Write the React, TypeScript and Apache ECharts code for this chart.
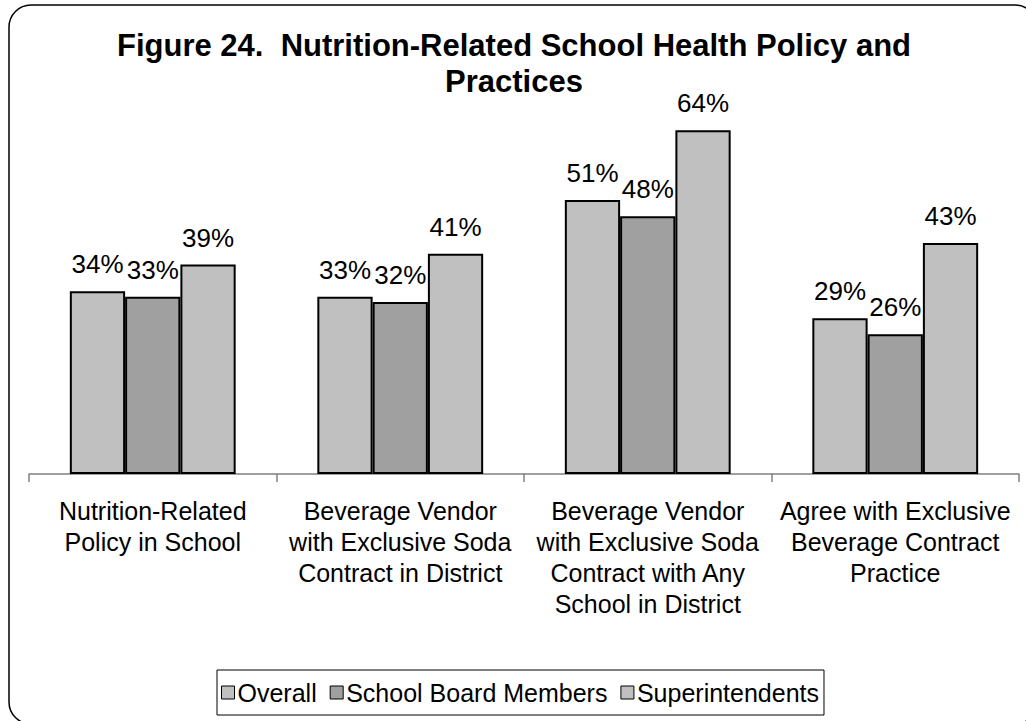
import React, { useEffect, useRef } from "react";
import * as echarts from "echarts";

const categories = [
  "Nutrition-Related\nPolicy in School",
  "Beverage Vendor\nwith Exclusive Soda\nContract in District",
  "Beverage Vendor\nwith Exclusive Soda\nContract with Any\nSchool in District",
  "Agree with Exclusive\nBeverage Contract\nPractice",
];
const seriesNames = ["Overall", "School Board Members", "Superintendents"];
const overall = [34, 33, 51, 29];
const boardMembers = [33, 32, 48, 26];
const superintendents = [39, 41, 64, 43];
const colors = ["#C0C0C0", "#A0A0A0", "#C0C0C0"];
const titleText = "Figure 24.  Nutrition-Related School Health Policy and\nPractices";

export default function App() {
  const ref = useRef<HTMLDivElement>(null);
  useEffect(() => {
    if (!ref.current) return;
    const chart = echarts.init(ref.current, null, { renderer: "svg" });
    const font = "'Liberation Sans', Arial, sans-serif";
    const mk = (name: string, data: number[], color: string) => ({
      name,
      type: "bar",
      data,
      barGap: "0%",
      barCategoryGap: "33%",
      itemStyle: { color, borderColor: "#000", borderWidth: 2 },
      label: {
        show: true,
        position: "top",
        distance: 14,
        formatter: "{c}%",
        color: "#000",
        fontSize: 26,
        fontFamily: font,
      },
    });
    chart.setOption({
      animation: false,
      textStyle: { fontFamily: font },
      graphic: [
        {
          type: "rect",
          shape: { x: 9, y: 5, width: 1028, height: 719, r: 22 },
          style: { fill: "none", stroke: "#000", lineWidth: 1.5 },
          z: -1,
        },
        {
          type: "text",
          x: 514,
          y: 27,
          style: {
            text: titleText,
            textAlign: "center",
            textVerticalAlign: "top",
            fontSize: 31,
            fontWeight: "bold",
            fontFamily: font,
            fill: "#000",
            lineHeight: 36,
          },
        },
      ],
      legend: {
        data: seriesNames,
        left: 217,
        top: 670,
        padding: [10, 5, 10, 4],
        itemGap: 13,
        itemWidth: 13,
        itemHeight: 13,
        borderColor: "#000",
        borderWidth: 1,
        icon: "rect",
        itemStyle: { borderColor: "#000", borderWidth: 1 },
        textStyle: { fontSize: 25, color: "#000", fontFamily: font, padding: [0, 0, 0, -2] },
      },
      grid: { left: 29, right: 7, top: 98, bottom: 247, containLabel: false },
      xAxis: {
        type: "category",
        data: categories,
        axisLine: { lineStyle: { color: "#808080", width: 1.5 } },
        axisTick: { show: true, length: 8, lineStyle: { color: "#808080", width: 1.5 } },
        axisLabel: {
          interval: 0,
          fontSize: 25,
          lineHeight: 31,
          color: "#000",
          margin: 21,
          fontFamily: font,
        },
      },
      yAxis: {
        type: "value",
        min: 0,
        max: 70,
        show: false,
        splitLine: { show: false },
      },
      series: [
        mk(seriesNames[0], overall, colors[0]),
        mk(seriesNames[1], boardMembers, colors[1]),
        mk(seriesNames[2], superintendents, colors[2]),
      ],
    });
    return () => chart.dispose();
  }, []);
  return (
    <div
      ref={ref}
      style={{ position: "fixed", left: 0, top: 0, width: 1026, height: 721, background: "#fff" }}
    />
  );
}
